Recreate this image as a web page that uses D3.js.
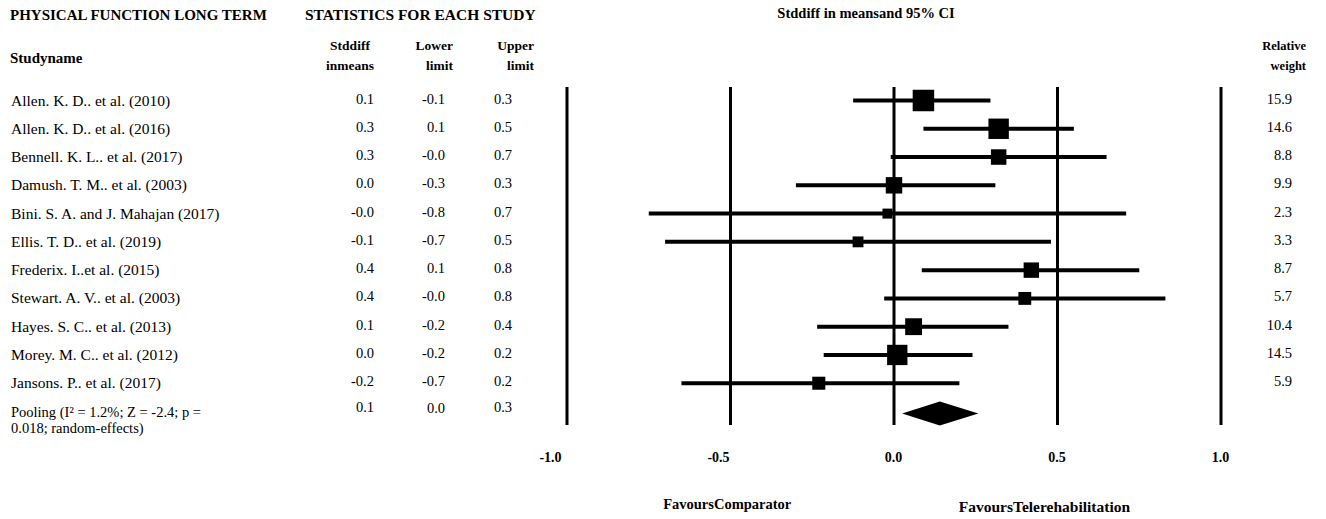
<!DOCTYPE html>
<html>
<head>
<meta charset="utf-8">
<script src="https://cdn.jsdelivr.net/npm/d3@7"></script>
<style>
  html, body { margin: 0; padding: 0; background: #fff; }
  svg { display: block; }
  svg text { font-family: 'Liberation Serif', Tinos, 'Times New Roman', 'DejaVu Serif', serif; }
</style>
</head>
<body>
<script>
// ---------------- data ----------------
const studies = [
  "Allen. K. D.. et al. (2010)",
  "Allen. K. D.. et al. (2016)",
  "Bennell. K. L.. et al. (2017)",
  "Damush. T. M.. et al. (2003)",
  "Bini. S. A. and J. Mahajan (2017)",
  "Ellis. T. D.. et al. (2019)",
  "Frederix. I..et al. (2015)",
  "Stewart. A. V.. et al. (2003)",
  "Hayes. S. C.. et al. (2013)",
  "Morey. M. C.. et al. (2012)",
  "Jansons. P.. et al. (2017)"
];
const smd   = [0.09, 0.32, 0.32, 0.00, -0.02, -0.11, 0.42, 0.40, 0.06, 0.01, -0.23];
const lower = [-0.125, 0.09, -0.01, -0.30, -0.75, -0.70, 0.085, -0.03, -0.235, -0.215, -0.65];
const upper = [0.295, 0.55, 0.65, 0.31, 0.71, 0.48, 0.75, 0.83, 0.35, 0.24, 0.20];
const weights = [15.9, 14.6, 8.8, 9.9, 2.3, 3.3, 8.7, 5.7, 10.4, 14.5, 5.9];
const smdText   = ["0.1","0.3","0.3","0.0","-0.0","-0.1","0.4","0.4","0.1","0.0","-0.2"];
const lowerText = ["-0.1","0.1","-0.0","-0.3","-0.8","-0.7","0.1","-0.0","-0.2","-0.2","-0.7"];
const upperText = ["0.3","0.5","0.7","0.3","0.7","0.5","0.8","0.8","0.4","0.2","0.2"];
const weightText = ["15.9","14.6","8.8","9.9","2.3","3.3","8.7","5.7","10.4","14.5","5.9"];
const pooled = { est: 0.14, lower: 0.025, upper: 0.258, estText: "0.1", lowerText: "0.0", upperText: "0.3" };
const poolingLabel = ["Pooling (I\u00B2 = 1.2%; Z = -2.4; p =", "0.018; random-effects)"];
const xTicks = [-1.0, -0.5, 0.0, 0.5, 1.0];

// ---------------- layout ----------------
const W = 1326, H = 519;
const FONT = "'Liberation Serif', Tinos, 'Times New Roman', 'DejaVu Serif', serif";
const svg = d3.select("body").append("svg").attr("width", W).attr("height", H)
  .attr("font-family", FONT);

const x = d3.scaleLinear().domain([-1, 1]).range([567, 1221]);
const rowKeys = d3.range(studies.length + 1);
const y = d3.scalePoint().domain(rowKeys).range([100.5, 411.5]);
const sz = d3.scaleLinear().domain([2.3, 15.9]).range([10, 21.5]);

// headers
const hdr = svg.append("g").attr("font-weight", "bold").attr("fill", "#000");
hdr.append("text").attr("x", 10).attr("y", 20).attr("font-size", 15).text("PHYSICAL FUNCTION LONG TERM");
hdr.append("text").attr("x", 305).attr("y", 20).attr("font-size", 15.5).text("STATISTICS FOR EACH STUDY");
hdr.append("text").attr("x", 866).attr("y", 18).attr("font-size", 14.5).attr("text-anchor", "middle").text("Stddiff in meansand 95% CI");
hdr.append("text").attr("x", 10).attr("y", 63).attr("font-size", 15).text("Studyname");
const colHead = [
  { x: 350, anchor: "middle", l1: "Stddiff", l2: "inmeans", fs: 13.5 },
  { x: 453, anchor: "end", l1: "Lower", l2: "limit", fs: 13.5 },
  { x: 534, anchor: "end", l1: "Upper", l2: "limit", fs: 13.5 },
  { x: 1306, anchor: "end", l1: "Relative", l2: "weight", fs: 12.5 }
];
colHead.forEach(c => {
  hdr.append("text").attr("x", c.x).attr("y", 50).attr("font-size", c.fs).attr("text-anchor", c.anchor).text(c.l1);
  hdr.append("text").attr("x", c.x).attr("y", 70).attr("font-size", c.fs).attr("text-anchor", c.anchor).text(c.l2);
});

// grid lines
svg.append("g").selectAll("line").data(xTicks).join("line")
  .attr("x1", d => x(d)).attr("x2", d => x(d))
  .attr("y1", 87).attr("y2", 425)
  .attr("stroke", "#000").attr("stroke-width", 3);

// table rows
const rows = svg.append("g").attr("fill", "#000");
rows.selectAll("text.name").data(studies).join("text").attr("class", "name")
  .attr("font-size", 15.5)
  .attr("x", 11).attr("y", (d, i) => y(i) + 5).text(d => d);
const valFont = 14.5;
rows.selectAll("text.smd").data(smdText).join("text").attr("class", "smd")
  .attr("font-size", valFont)
  .attr("x", 374).attr("y", (d, i) => y(i) + 3).attr("text-anchor", "end").text(d => d);
rows.selectAll("text.lo").data(lowerText).join("text").attr("class", "lo")
  .attr("font-size", valFont)
  .attr("x", 445).attr("y", (d, i) => y(i) + 3).attr("text-anchor", "end").text(d => d);
rows.selectAll("text.up").data(upperText).join("text").attr("class", "up")
  .attr("font-size", valFont)
  .attr("x", 512).attr("y", (d, i) => y(i) + 3).attr("text-anchor", "end").text(d => d);
rows.selectAll("text.wt").data(weightText).join("text").attr("class", "wt")
  .attr("font-size", valFont)
  .attr("x", 1292).attr("y", (d, i) => y(i) + 3).attr("text-anchor", "end").text(d => d);

// pooled row text
const py = y(studies.length);
rows.append("text").attr("font-size", 14.5).attr("x", 11).attr("y", py + 5).text(poolingLabel[0]);
rows.append("text").attr("font-size", 14.5).attr("x", 11).attr("y", py + 21).text(poolingLabel[1]);
rows.append("text").attr("font-size", valFont).attr("x", 374).attr("y", py).attr("text-anchor", "end").text(pooled.estText);
rows.append("text").attr("font-size", valFont).attr("x", 445).attr("y", py + 1).attr("text-anchor", "end").text(pooled.lowerText);
rows.append("text").attr("font-size", valFont).attr("x", 512).attr("y", py).attr("text-anchor", "end").text(pooled.upperText);

// CI lines and squares
const marks = svg.append("g");
marks.selectAll("line.ci").data(studies).join("line").attr("class", "ci")
  .attr("x1", (d, i) => x(lower[i])).attr("x2", (d, i) => x(upper[i]))
  .attr("y1", (d, i) => y(i)).attr("y2", (d, i) => y(i))
  .attr("stroke", "#000").attr("stroke-width", 4);
marks.selectAll("rect.pt").data(studies).join("rect").attr("class", "pt")
  .attr("x", (d, i) => x(smd[i]) - sz(weights[i]) / 2)
  .attr("y", (d, i) => y(i) - sz(weights[i]) / 2)
  .attr("width", (d, i) => sz(weights[i]))
  .attr("height", (d, i) => sz(weights[i]))
  .attr("fill", "#000");

// diamond
const dy = py + 2, dh = 12;
marks.append("path")
  .attr("d", `M${x(pooled.lower)},${dy} L${x(pooled.est)},${dy - dh} L${x(pooled.upper)},${dy} L${x(pooled.est)},${dy + dh} Z`)
  .attr("fill", "#000");

// x axis labels
const axis = d3.axisBottom(x).tickValues(xTicks).tickSize(0).tickFormat(d => d.toFixed(1));
const ax = svg.append("g").attr("transform", "translate(0,449)").call(axis);
ax.attr("font-family", FONT);
ax.select(".domain").remove();
ax.selectAll("text").attr("font-size", 14).attr("font-weight", "bold").attr("fill", "#000")
  .attr("dx", d => d < 0 ? -8 + d * 9 : -1);

// favours labels
svg.append("text").attr("x", x(-0.51)).attr("y", 509).attr("text-anchor", "middle")
  .attr("font-size", 14.5).attr("font-weight", "bold").text("FavoursComparator");
svg.append("text").attr("x", x(0.46)).attr("y", 512).attr("text-anchor", "middle")
  .attr("font-size", 15.5).attr("font-weight", "bold").text("FavoursTelerehabilitation");
</script>
</body>
</html>
